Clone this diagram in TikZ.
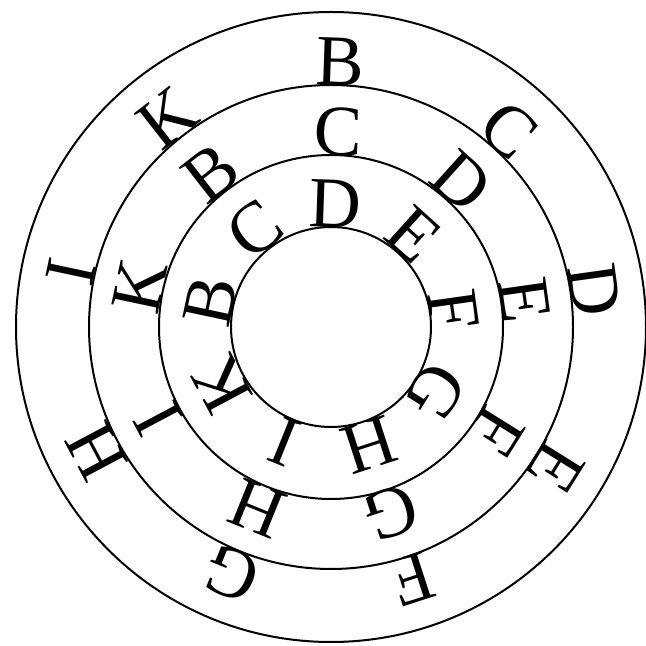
\documentclass[tikz,border=0pt]{standalone}
\usepackage{fontspec}
\setmainfont{Liberation Serif}
\begin{document}
\begin{tikzpicture}[x=1pt,y=1pt,
  ring/.style={draw=black,line width=2pt},
  letter/.style={inner sep=0pt,anchor=base,font=\fontsize{72}{72}\selectfont}]
\useasboundingbox (0,0) rectangle (646,646);
\coordinate (O) at (331,319);
\draw[ring] (O) circle (315);
\draw[ring] (O) circle (242);
\draw[ring] (O) circle (172);
\draw[ring] (O) circle (100);
\foreach \l [count=\k from 0] in {B,C,D,E,F,G,H,I,K} {
  \pgfmathsetmacro\a{88-40*\k}
  \node[letter,rotate=\a-90] (outer\k) at ([shift={(\a:242)}]O) {\l};
}
\foreach \l [count=\k from 0] in {C,D,E,F,G,H,I,K,B} {
  \pgfmathsetmacro\a{88-40*\k}
  \node[letter,rotate=\a-90] (middle\k) at ([shift={(\a:172)}]O) {\l};
}
\foreach \l [count=\k from 0] in {D,E,F,G,H,I,K,B,C} {
  \pgfmathsetmacro\a{88-40*\k}
  \node[letter,rotate=\a-90] (inner\k) at ([shift={(\a:100)}]O) {\l};
}
\end{tikzpicture}
\end{document}
